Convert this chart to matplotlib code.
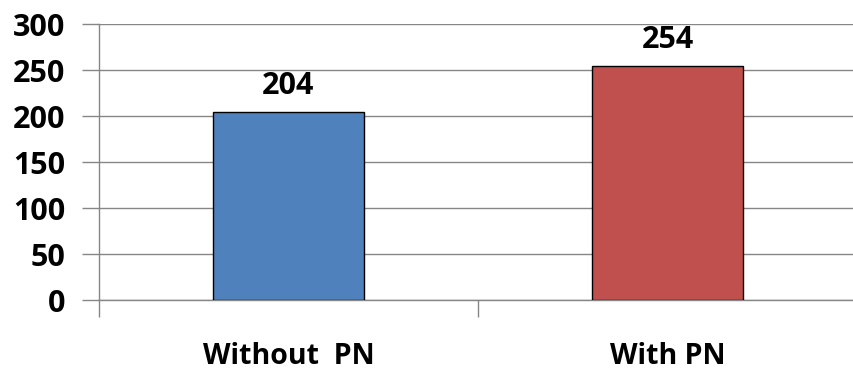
import matplotlib.pyplot as plt
import numpy as np

# Datos del gráfico
categorias = ["Without  PN", "With PN"]
valores = [204, 254]
colores = ["#4F81BD", "#C0504D"]

plt.rcParams['font.family'] = ['Open Sans', 'DejaVu Sans']
plt.rcParams['font.weight'] = 'bold'

fig = plt.figure(figsize=(8.54, 3.71), dpi=100)
ax = fig.add_axes([99 / 854, 1 - 300 / 371, 758 / 854, 276 / 371])

x = np.arange(len(categorias))
ax.bar(x, valores, width=0.4, color=colores, edgecolor="black", linewidth=1, zorder=3)

# Etiquetas de valores sobre las barras
for xi, v in zip(x, valores):
    ax.text(xi, v + 12, f"{v}", ha="center", va="bottom", fontsize=22, fontweight="bold")

ax.set_xlim(-0.5, 1.5)
ax.set_ylim(0, 300)
ax.set_yticks(np.arange(0, 301, 50))
ax.yaxis.grid(True, color="#868686", linewidth=1, zorder=0)

# Marcas del eje x entre categorías, etiquetas centradas bajo cada barra
ax.set_xticks([-0.5, 0.5, 1.5])
ax.set_xticklabels([])
ax.set_xticks(x, minor=True)
ax.set_xticklabels(categorias, minor=True)
ax.tick_params(axis="x", which="minor", length=0, pad=30, labelsize=20.5)
ax.tick_params(axis="x", which="major", length=12, color="#868686", width=1)
ax.tick_params(axis="y", length=12, color="#868686", width=1, labelsize=22, pad=12)

for lbl in ax.get_xticklabels(minor=True) + ax.get_yticklabels():
    lbl.set_fontweight("bold")

for s in ["top", "right"]:
    ax.spines[s].set_visible(False)
for s in ["left", "bottom"]:
    ax.spines[s].set_color("#868686")
    ax.spines[s].set_linewidth(1)

plt.savefig("out.png", dpi=100)
